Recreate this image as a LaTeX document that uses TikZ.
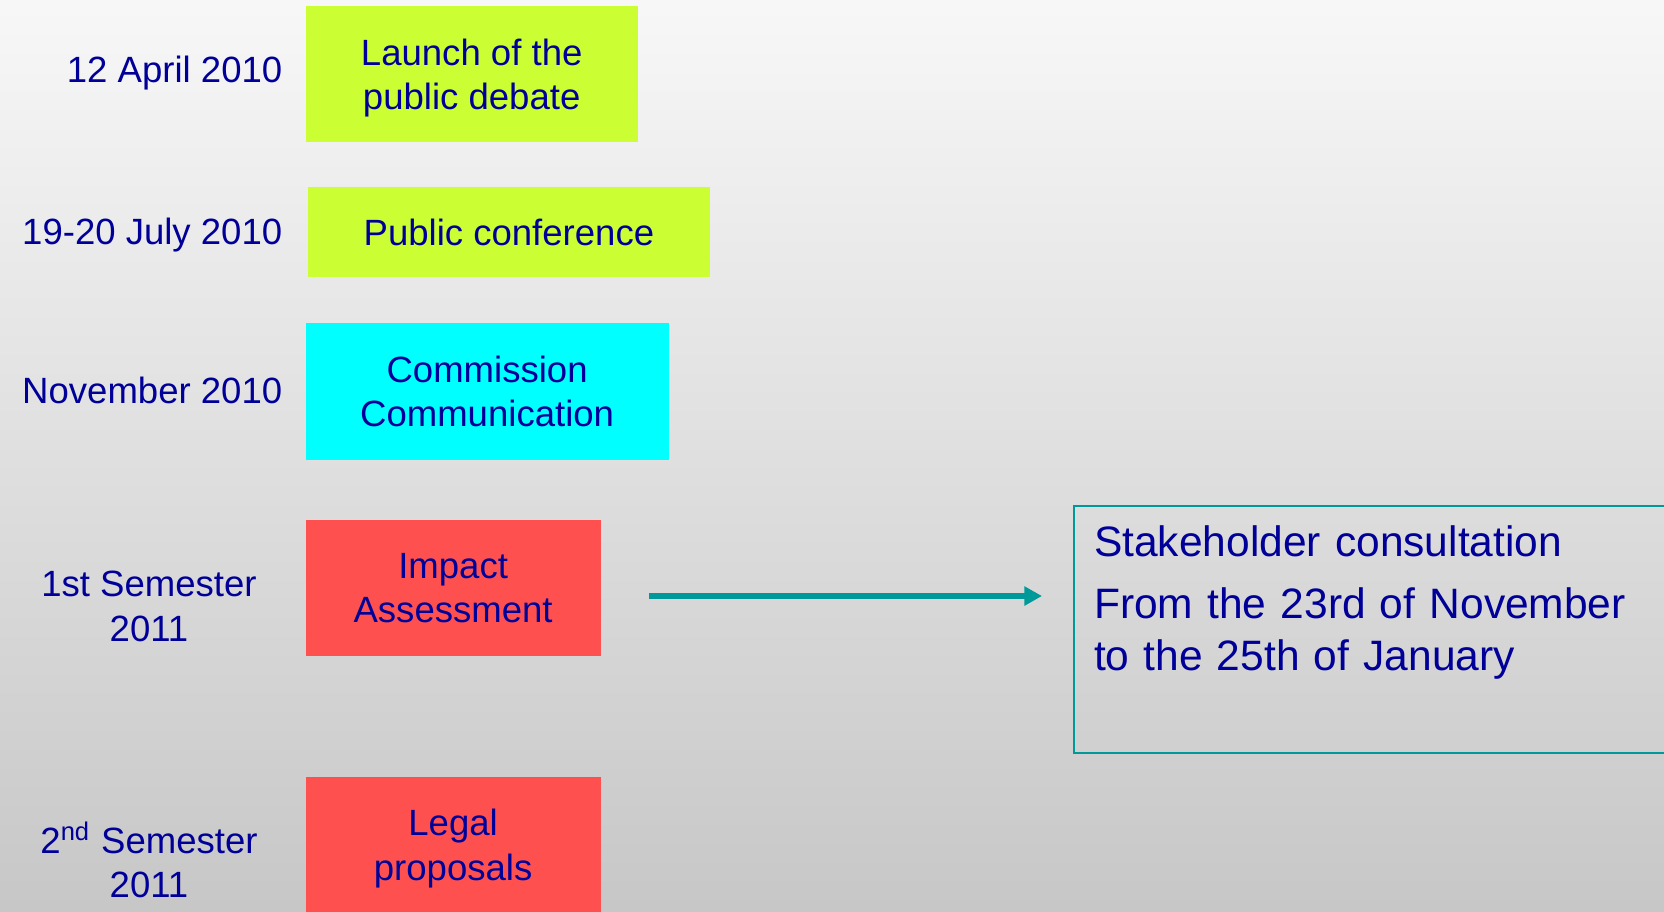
\documentclass[tikz,border=0pt]{standalone}
\usepackage{fontspec}
\setmainfont{Liberation Sans}
\usetikzlibrary{arrows.meta}
\pgfdeclarelayer{edgelayer}
\pgfdeclarelayer{nodelayer}
\pgfsetlayers{edgelayer,nodelayer,main}
\definecolor{navytext}{RGB}{0,0,153}
\definecolor{boxlime}{RGB}{204,255,51}
\definecolor{boxcyan}{RGB}{0,255,255}
\definecolor{boxred}{RGB}{255,80,80}
\definecolor{flowteal}{RGB}{0,153,153}
\tikzset{font=\fontsize{10.4}{12.6}\selectfont}
\tikzstyle{none}=[inner sep=0pt]
\tikzstyle{datelabel}=[inner sep=0pt,text=navytext,align=center]
\tikzstyle{stage}=[inner sep=0pt,text=navytext,align=center,text depth=0pt]
\tikzstyle{limestage}=[stage,fill=boxlime]
\tikzstyle{cyanstage}=[stage,fill=boxcyan]
\tikzstyle{redstage}=[stage,fill=boxred]
\tikzstyle{stakebox}=[draw=flowteal,line width=0.6pt,inner sep=0.2cm,text=navytext,align=left,text width=6.5cm,text depth=1.76cm,font=\fontsize{12.1}{14.8}\selectfont]
\tikzstyle{flow}=[draw=flowteal,line width=1.5pt,-{Triangle[length=5pt,width=5.2pt]}]

\begin{document}
\begin{tikzpicture}
	\useasboundingbox (0, 0) rectangle (16.64, -9.11);
	\begin{pgfonlayer}{nodelayer}
		\node [style=datelabel, anchor=base east] (0) at (2.83, -0.82) {12 April 2010};
		\node [style=datelabel, anchor=base east] (1) at (2.83, -2.44) {19-20 July 2010};
		\node [style=datelabel, anchor=base east] (2) at (2.83, -4.035) {November 2010};
		\node [style=datelabel] (3) at (1.49, -6.065) {1st Semester\\2011};
		\node [style=datelabel] (4) at (1.49, -8.6) {2\textsuperscript{nd} Semester\\2011};
		\node [style=limestage, minimum width=3.32cm, minimum height=1.36cm] (5) at (4.717, -0.743) {Launch of the\\public debate};
		\node [style=limestage, minimum width=4.02cm, minimum height=0.9cm] (6) at (5.089, -2.319) {Public conference};
		\node [style=cyanstage, minimum width=3.63cm, minimum height=1.37cm] (7) at (4.871, -3.911) {Commission\\Communication};
		\node [style=redstage, minimum width=2.95cm, minimum height=1.36cm] (8) at (4.531, -5.879) {Impact\\Assessment};
		\node [style=redstage, minimum width=2.95cm, minimum height=1.36cm] (9) at (4.531, -8.448) {Legal\\proposals};
		\node [style=stakebox, anchor=north west] (10) at (10.73, -5.05) {Stakeholder consultation\\[2.8pt]From the 23rd of November\\to the 25th of January};
		\coordinate (11) at (6.49, -5.96);
		\coordinate (12) at (10.42, -5.96);
	\end{pgfonlayer}
	\begin{pgfonlayer}{edgelayer}
		\shade [top color=white!97!black, bottom color=white!78!black] (0, 0) rectangle (16.64, -9.11);
		\draw [style=flow] (11) to (12);
	\end{pgfonlayer}
\end{tikzpicture}
\end{document}
